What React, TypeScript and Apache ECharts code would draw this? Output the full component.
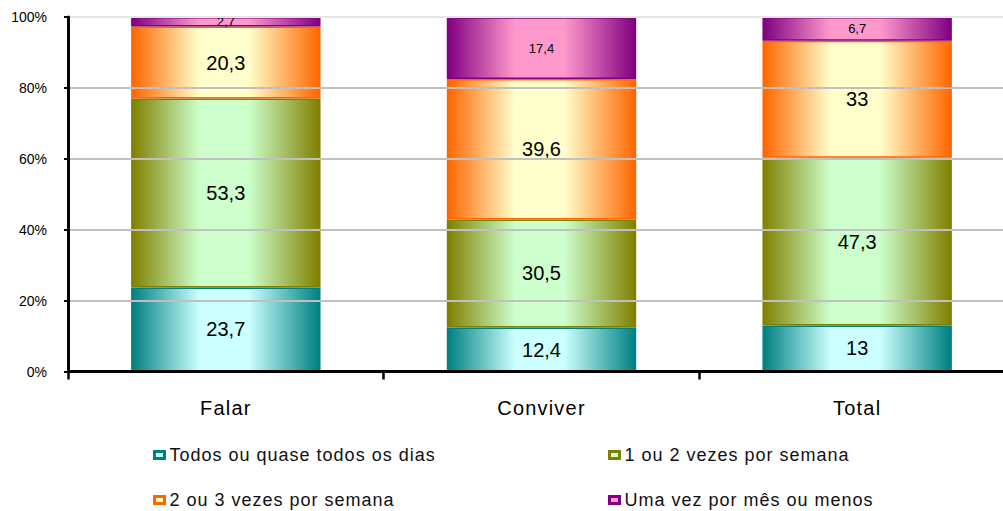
import React, { useEffect, useRef } from "react";
import * as echarts from "echarts";

// Stacked 100% bars: how often people talk / spend time together
const categories = ["Falar", "Conviver", "Total"];
const seriesNames = [
  "Todos ou quase todos os dias",
  "1 ou 2 vezes por semana",
  "2 ou 3 vezes por semana",
  "Uma vez por mês ou menos",
];
const dailyValues = [23.7, 12.4, 13];
const weeklyOneTwoValues = [53.3, 30.5, 47.3];
const weeklyTwoThreeValues = [20.3, 39.6, 33];
const monthlyValues = [2.7, 17.4, 6.7];
const yTicks = [0, 20, 40, 60, 80, 100];

// edge colour / centre colour of each series' horizontal gradient
const palette = [
  { dark: "#008080", light: "#CCFFFF" },
  { dark: "#808000", light: "#CCFFCC" },
  { dark: "#FF6600", light: "#FFFFCC" },
  { dark: "#800080", light: "#FF99CC" },
];

const FONT = "'Liberation Sans', Arial, Helvetica, sans-serif";

const fmt = (v: number) => String(v).replace(".", ",");

export default function App() {
  const ref = useRef<HTMLDivElement>(null);

  useEffect(() => {
    if (!ref.current) return;
    const chart = echarts.init(ref.current, null, { renderer: "svg" });
    const values = [dailyValues, weeklyOneTwoValues, weeklyTwoThreeValues, monthlyValues];

    const series = values.map((data, i) => ({
      name: seriesNames[i],
      type: "bar",
      stack: "total",
      barWidth: "60%",
      data,
      itemStyle: {
        color: new echarts.graphic.LinearGradient(0, 0, 1, 0, [
          { offset: 0, color: palette[i].dark },
          { offset: 0.36, color: palette[i].light },
          { offset: 0.62, color: palette[i].light },
          { offset: 1, color: palette[i].dark },
        ]),
        borderColor: palette[i].dark,
        borderWidth: 1.5,
      },
      label: {
        show: true,
        position: "inside",
        color: "#000",
        fontFamily: FONT,
        fontSize: i === 3 ? 13 : 20,
        formatter: (p: any) => fmt(p.value),
      },
    }));

    const legends = seriesNames.map((name, i) => ({
      data: [
        {
          name,
          itemStyle: {
            color: palette[i].light,
            borderColor: palette[i].dark,
            borderWidth: 3,
          },
        },
      ],
      left: i % 2 === 0 ? 153 : 608,
      top: i < 2 ? 445 : 490,
      padding: 0,
      icon: "rect",
      itemWidth: 10,
      itemHeight: 7,
      selectedMode: false,
      textStyle: { fontSize: 18, color: "#111", fontFamily: FONT, lineHeight: 20 },
    }));

    chart.setOption({
      animation: false,
      backgroundColor: "#fff",
      textStyle: { fontFamily: FONT },
      grid: { left: 68, top: 17, right: 1, height: 354.5 },
      legend: legends,
      xAxis: {
        type: "category",
        data: categories,
        axisLine: { lineStyle: { color: "#000", width: 3 } },
        axisTick: { show: true, length: 8, lineStyle: { color: "#000", width: 2.5 } },
        axisLabel: { fontSize: 20, color: "#000", margin: 26, fontFamily: FONT },
        z: 5,
      },
      yAxis: {
        type: "value",
        min: yTicks[0],
        max: yTicks[yTicks.length - 1],
        interval: 20,
        axisLine: { show: true, lineStyle: { color: "#000", width: 3 } },
        axisTick: { show: true, length: 4, lineStyle: { color: "#000", width: 2 } },
        axisLabel: {
          fontSize: 14,
          color: "#000",
          margin: 21,
          fontFamily: FONT,
          formatter: "{value}%",
        },
        splitLine: {
          lineStyle: {
            color: ["#c0c0c0", "#c0c0c0", "#c0c0c0", "#c0c0c0", "#c0c0c0", "#e6e6e6"],
            width: 2,
          },
        },
        z: 5,
      },
      series,
    });

    // widen the legend and category lettering
    const spaceText = () => {
      ref.current?.querySelectorAll("text").forEach((t) => {
        const s = t.textContent || "";
        if (seriesNames.includes(s)) {
          t.setAttribute("letter-spacing", "1");
        } else if (categories.includes(s)) {
          t.setAttribute("letter-spacing", "1.2");
        }
      });
    };
    spaceText();
    chart.on("finished", spaceText);
    const raf = requestAnimationFrame(spaceText);

    return () => {
      cancelAnimationFrame(raf);
      chart.dispose();
    };
  }, []);

  return (
    <div
      style={{
        position: "fixed",
        left: 0,
        top: 0,
        width: 1003,
        height: 511,
        overflow: "hidden",
        background: "#fff",
      }}
    >
      <div ref={ref} style={{ width: 1016, height: 511 }} />
    </div>
  );
}
